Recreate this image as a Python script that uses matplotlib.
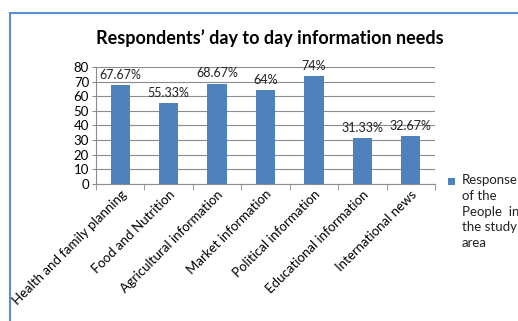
import matplotlib.pyplot as plt
from matplotlib.patches import Rectangle

# Data
categories = ["Health and family planning", "Food and Nutrition", "Agricultural information",
              "Market information", "Political information", "Educational information",
              "International news"]
values = [67.67, 55.33, 68.67, 64, 74, 31.33, 32.67]
value_labels = ["67.67%", "55.33%", "68.67%", "64%", "74%", "31.33%", "32.67%"]
series_name = "Response\nof the\nPeople  in\nthe study\narea"

plt.rcParams['font.family'] = ['Lato', 'DejaVu Sans']

W, H = 518, 321
fig = plt.figure(figsize=(W / 100, H / 100), dpi=100)

# Outer blue frame (chart border)
fig.patches.append(Rectangle((9.5 / W, -0.1), 1.2, 1 - 13 / H + 0.1,
                             transform=fig.transFigure, fill=False,
                             edgecolor="#5b8fd0", linewidth=1.5))

ax = fig.add_axes([96 / W, 1 - 184 / H, 339 / W, 117 / H])

x = list(range(len(categories)))
ax.bar(x, values, width=0.4, color="#4f81bd", zorder=3)

for xi, v, lab in zip(x, values, value_labels):
    ax.annotate(lab, (xi, v), xytext=(0, 3), textcoords="offset points",
                ha="center", va="bottom", fontsize=9, color="#222222")

ax.set_xlim(-0.5, len(categories) - 0.5)
ax.set_ylim(0, 80)
ax.set_yticks(range(0, 81, 10))
ax.yaxis.grid(True, color="#8c8c8c", linewidth=0.8, zorder=0)

ax.set_xticks(x)
ax.set_xticklabels(categories, rotation=45, ha="right", rotation_mode="anchor", fontsize=9.5)
ax.set_xticks([i - 0.5 for i in range(len(categories) + 1)], minor=True)
ax.tick_params(axis="x", which="major", length=0, pad=3)
ax.tick_params(axis="x", which="minor", length=4, color="#8c8c8c")
ax.tick_params(axis="y", length=3, color="#8c8c8c", labelsize=9.5, pad=2)

for side in ["top", "right"]:
    ax.spines[side].set_visible(False)
for side in ["left", "bottom"]:
    ax.spines[side].set_color("#8c8c8c")

fig.text(270 / W, 1 - 38 / H, "Respondents\u2019 day to day information needs",
         ha="center", va="center", fontsize=13, fontweight="bold")

# Legend drawn by hand so the marker sits on the first text line
fig.patches.append(Rectangle((448 / W, 1 - 185 / H), 7 / W, 7 / H,
                             transform=fig.transFigure, facecolor="#4f81bd",
                             edgecolor="none"))
fig.text(462 / W, 1 - 174 / H, series_name, ha="left", va="top",
         fontsize=9.5, linespacing=1.38, color="#222222")

fig.savefig("out.png", dpi=100)
